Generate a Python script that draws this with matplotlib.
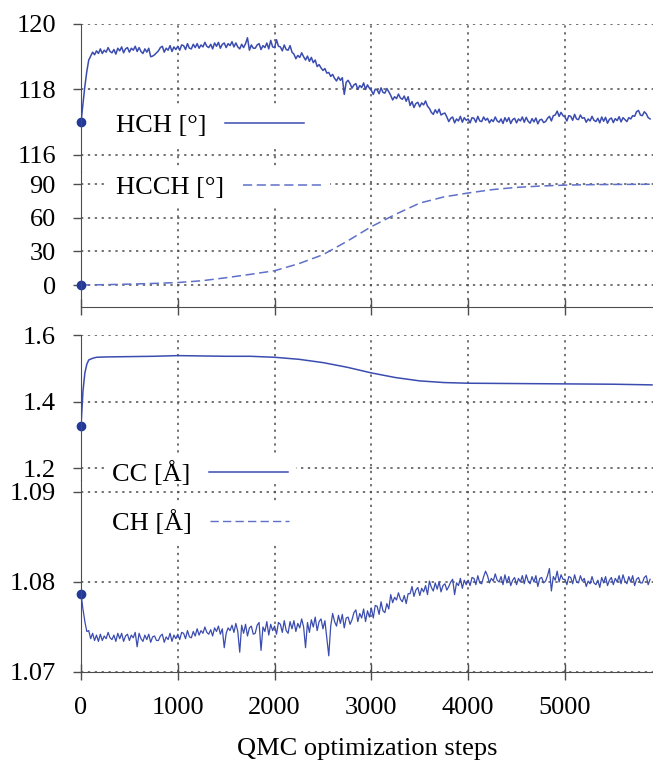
import matplotlib
matplotlib.use('Agg')
import matplotlib.pyplot as plt
import numpy as np

plt.rcParams['font.family'] = ['Liberation Serif', 'DejaVu Serif']
plt.rcParams['font.size'] = 19

# QMC steps, one value every 20 steps
steps = np.arange(0, 5900, 20)

# HCH angle [deg]
hch = [117.00, 117.55, 118.10, 118.55, 118.90, 119.02, 119.14, 119.06, 119.18, 119.10,
       119.24, 119.10, 119.20, 119.14, 119.28, 119.16, 119.12, 119.22, 119.08, 119.26,
       119.18, 119.30, 119.12, 119.24, 119.28, 119.14, 119.26, 119.20, 119.32, 119.16,
       119.28, 119.16, 119.10, 119.24, 119.14, 119.26, 119.00, 119.02, 119.06, 119.12,
       119.18, 119.28, 119.32, 119.14, 119.26, 119.20, 119.34, 119.16, 119.30, 119.22,
       119.32, 119.20, 119.36, 119.34, 119.22, 119.40, 119.26, 119.24, 119.38, 119.28,
       119.40, 119.26, 119.36, 119.30, 119.44, 119.32, 119.28, 119.38, 119.24, 119.42,
       119.32, 119.44, 119.26, 119.38, 119.42, 119.28, 119.40, 119.34, 119.46, 119.30,
       119.42, 119.30, 119.24, 119.38, 119.28, 119.40, 119.58, 119.20, 119.36, 119.26,
       119.26, 119.36, 119.40, 119.22, 119.34, 119.28, 119.42, 119.24, 119.50, 119.30,
       119.28, 119.52, 119.32, 119.30, 119.18, 119.36, 119.22, 119.20, 119.34, 119.14,
       119.08, 118.94, 119.04, 118.98, 119.12, 119.00, 118.90, 119.02, 118.86, 118.98,
       118.82, 118.90, 118.70, 118.76, 118.66, 118.58, 118.64, 118.50, 118.52, 118.40,
       118.46, 118.34, 118.26, 118.38, 118.28, 118.36, 117.85, 118.22, 118.28, 118.18,
       118.04, 118.14, 118.18, 118.00, 118.12, 118.06, 118.20, 118.00, 118.14, 118.04,
       117.97, 117.85, 118.01, 117.99, 117.87, 118.05, 117.91, 117.89, 118.03, 117.93,
       117.82, 117.68, 117.78, 117.72, 117.86, 117.74, 117.70, 117.80, 117.64, 117.78,
       117.51, 117.63, 117.45, 117.57, 117.61, 117.47, 117.59, 117.53, 117.65, 117.49,
       117.42, 117.30, 117.24, 117.38, 117.28, 117.40, 117.22, 117.26, 117.28, 117.16,
       117.02, 117.12, 117.16, 116.98, 117.10, 117.04, 117.18, 117.00, 117.14, 117.06,
       117.10, 116.98, 117.14, 117.12, 117.00, 117.18, 117.04, 117.02, 117.16, 117.06,
       117.12, 116.98, 117.08, 117.02, 117.16, 117.04, 117.00, 117.10, 116.96, 117.14,
       117.02, 117.14, 116.96, 117.08, 117.12, 116.98, 117.10, 117.04, 117.16, 117.00,
       117.15, 117.03, 116.97, 117.11, 117.01, 117.13, 116.95, 117.07, 117.09, 116.99,
       117.02, 117.12, 117.18, 117.04, 117.20, 117.22, 117.34, 117.18, 117.30, 117.20,
       117.16, 117.04, 117.20, 117.18, 117.06, 117.24, 117.10, 117.08, 117.22, 117.12,
       117.14, 117.00, 117.10, 117.04, 117.18, 117.06, 117.02, 117.12, 116.98, 117.16,
       117.03, 117.15, 116.97, 117.09, 117.13, 116.99, 117.11, 117.05, 117.17, 117.01,
       117.14, 117.08, 117.02, 117.14, 117.10, 117.20, 117.18, 117.32, 117.36, 117.22,
       117.20, 117.32, 117.26, 117.14, 117.10]

# CH bond [A]
ch = [1.0787, 1.0770, 1.0756, 1.0745, 1.0746, 1.0737, 1.0743, 1.0735, 1.0741, 1.0734,
      1.0742, 1.0735, 1.0740, 1.0737, 1.0744, 1.0738, 1.0736, 1.0741, 1.0734, 1.0743,
      1.0737, 1.0743, 1.0734, 1.0740, 1.0742, 1.0735, 1.0741, 1.0738, 1.0744, 1.0728,
      1.0743, 1.0737, 1.0734, 1.0741, 1.0736, 1.0742, 1.0733, 1.0739, 1.0740, 1.0735,
      1.0735, 1.0740, 1.0742, 1.0733, 1.0739, 1.0736, 1.0743, 1.0734, 1.0741, 1.0737,
      1.0742, 1.0736, 1.0744, 1.0743, 1.0737, 1.0746, 1.0739, 1.0738, 1.0745, 1.0740,
      1.0748, 1.0741, 1.0746, 1.0743, 1.0750, 1.0744, 1.0742, 1.0747, 1.0740, 1.0749,
      1.0745, 1.0751, 1.0742, 1.0748, 1.0727, 1.0743, 1.0749, 1.0746, 1.0752, 1.0744,
      1.0754, 1.0745, 1.0722, 1.0752, 1.0743, 1.0753, 1.0740, 1.0749, 1.0751, 1.0742,
      1.0743, 1.0752, 1.0755, 1.0724, 1.0750, 1.0745, 1.0756, 1.0741, 1.0753, 1.0746,
      1.0751, 1.0742, 1.0755, 1.0753, 1.0744, 1.0757, 1.0746, 1.0743, 1.0756, 1.0748,
      1.0757, 1.0745, 1.0754, 1.0749, 1.0759, 1.0750, 1.0727, 1.0755, 1.0744, 1.0758,
      1.0750, 1.0761, 1.0746, 1.0756, 1.0759, 1.0748, 1.0757, 1.0738, 1.0718, 1.0751,
      1.0765, 1.0756, 1.0751, 1.0763, 1.0754, 1.0764, 1.0749, 1.0760, 1.0761, 1.0753,
      1.0758, 1.0766, 1.0769, 1.0756, 1.0765, 1.0760, 1.0770, 1.0756, 1.0768, 1.0761,
      1.0771, 1.0760, 1.0774, 1.0773, 1.0764, 1.0778, 1.0768, 1.0766, 1.0776, 1.0770,
      1.0786, 1.0777, 1.0783, 1.0780, 1.0788, 1.0781, 1.0778, 1.0785, 1.0776, 1.0787,
      1.0787, 1.0795, 1.0784, 1.0791, 1.0794, 1.0785, 1.0793, 1.0789, 1.0796, 1.0786,
      1.0801, 1.0794, 1.0790, 1.0799, 1.0792, 1.0800, 1.0789, 1.0796, 1.0798, 1.0791,
      1.0795, 1.0800, 1.0803, 1.0786, 1.0799, 1.0796, 1.0804, 1.0793, 1.0802, 1.0797,
      1.0802, 1.0796, 1.0805, 1.0804, 1.0797, 1.0807, 1.0799, 1.0798, 1.0806, 1.0812,
      1.0807, 1.0799, 1.0804, 1.0801, 1.0809, 1.0802, 1.0800, 1.0806, 1.0797, 1.0808,
      1.0799, 1.0806, 1.0796, 1.0802, 1.0805, 1.0797, 1.0804, 1.0800, 1.0807, 1.0798,
      1.0808, 1.0801, 1.0798, 1.0806, 1.0800, 1.0807, 1.0795, 1.0804, 1.0805, 1.0799,
      1.0801, 1.0807, 1.0815, 1.0790, 1.0806, 1.0802, 1.0812, 1.0800, 1.0808, 1.0803,
      1.0803, 1.0797, 1.0806, 1.0805, 1.0798, 1.0808, 1.0800, 1.0799, 1.0807, 1.0801,
      1.0804, 1.0795, 1.0801, 1.0798, 1.0806, 1.0799, 1.0797, 1.0802, 1.0794, 1.0805,
      1.0799, 1.0806, 1.0796, 1.0802, 1.0805, 1.0797, 1.0804, 1.0800, 1.0807, 1.0798,
      1.0808, 1.0801, 1.0798, 1.0806, 1.0800, 1.0807, 1.0796, 1.0803, 1.0805, 1.0799,
      1.0799, 1.0805, 1.0807, 1.0797, 1.0803]

# HCCH dihedral [deg] (smooth)
hcch_steps = [0, 250, 500, 750, 1000, 1250, 1500, 1750, 2000, 2250, 2500, 2750, 3000,
              3250, 3500, 3750, 4000, 4250, 4500, 4750, 5000, 5250, 5500, 5750, 5900]
hcch = [0.0, 0.3, 0.8, 1.4, 2.2, 3.8, 6.5, 9.5, 12.7, 19.0, 27.0, 39.0, 52.0,
        63.0, 73.0, 78.5, 82.0, 85.0, 87.0, 88.2, 89.0, 89.4, 89.6, 89.7, 89.8]

# CC bond [A] (smooth)
cc_steps = [0, 20, 40, 60, 80, 120, 160, 250, 500, 750, 1000, 1250, 1500, 1750, 2000,
            2250, 2500, 2750, 3000, 3250, 3500, 3750, 4000, 4500, 5000, 5500, 5900]
cc = [1.327, 1.430, 1.486, 1.512, 1.525, 1.530, 1.533, 1.534, 1.535, 1.536, 1.538, 1.537,
      1.536, 1.536, 1.533, 1.527, 1.517, 1.503, 1.486, 1.472, 1.462, 1.457, 1.455, 1.454,
      1.453, 1.452, 1.450]

xticks = [0, 1000, 2000, 3000, 4000, 5000]

solid_c = '#3b4cb0'
dash_c = '#5f70c8'
dot_c = '#23399a'
axis_c = '#4d4d4d'

W, H = 653, 764
fig = plt.figure(figsize=(W / 100, H / 100), dpi=100)


def make_ax(top_px, bot_px):
    ax = fig.add_axes([81 / W, 1 - bot_px / H, 1 - 81 / W, (bot_px - top_px) / H])
    ax.patch.set_visible(False)
    for s in ['top', 'right', 'bottom']:
        ax.spines[s].set_visible(False)
    ax.spines['left'].set_color(axis_c)
    ax.spines['bottom'].set_color(axis_c)
    ax.set_xlim(0, 5910)
    ax.set_xticks(xticks)
    ax.grid(True, linestyle=(0, (1.5, 3)), color=axis_c, linewidth=1.1)
    ax.tick_params(axis='y', direction='out', length=6, width=1, color=axis_c, pad=12)
    ax.tick_params(axis='x', length=0, labelbottom=False)
    ax.set_axisbelow(True)
    return ax


def add_legend(ax, x_px, y_px):
    leg = ax.legend(loc='center left', bbox_to_anchor=(x_px / W, 1 - y_px / H),
                    bbox_transform=fig.transFigure, markerfirst=False, frameon=True,
                    handlelength=3.0, handletextpad=0.7, borderpad=0.3, borderaxespad=0)
    leg.get_frame().set_facecolor('white')
    leg.get_frame().set_edgecolor('none')
    leg.get_frame().set_alpha(1)


# HCH
ax1 = make_ax(24, 172)
ax1.plot(steps, hch, color=solid_c, linewidth=1.1, label='HCH [°]')
ax1.plot([steps[0]], [hch[0]], 'o', color=dot_c, markersize=6, clip_on=False)
ax1.set_ylim(115.48, 120)
ax1.set_yticks([116, 118, 120])
add_legend(ax1, 108, 125)

# HCCH
ax2 = make_ax(172, 307)
ax2.plot(hcch_steps, hcch, color=dash_c, linewidth=1.1, dashes=(6, 3), label='HCCH [°]')
ax2.plot([hcch_steps[0]], [hcch[0]], 'o', color=dot_c, markersize=6, clip_on=False)
ax2.set_ylim(-19.6, 100.7)
ax2.set_yticks([0, 30, 60, 90])
ax2.spines['bottom'].set_visible(True)
ax2.tick_params(axis='x', direction='inout', length=12, width=1, color=axis_c)
add_legend(ax2, 108, 187)

# CC
ax3 = make_ax(335, 480)
ax3.plot(cc_steps, cc, color=solid_c, linewidth=1.1, label='CC [Å]')
ax3.plot([cc_steps[0]], [cc[0]], 'o', color=dot_c, markersize=6, clip_on=False)
ax3.set_ylim(1.164, 1.6)
ax3.set_yticks([1.2, 1.4, 1.6])
ax3.set_yticklabels(['1.2', '1.4', '1.6'])
add_legend(ax3, 104, 474)

# CH
ax4 = make_ax(480, 672)
ax4.plot(steps, ch, color=solid_c, linewidth=0.9)
ax4.plot([steps[0]], [ch[0]], 'o', color=dot_c, markersize=6, clip_on=False)
ax4.set_ylim(1.07, 1.09133)
ax4.set_yticks([1.07, 1.08, 1.09])
ax4.set_yticklabels(['1.07', '1.08', '1.09'])
ax4.spines['bottom'].set_visible(True)
ax4.tick_params(axis='x', direction='inout', length=12, width=1, color=axis_c,
                labelbottom=True, pad=12)
ax4.set_xticklabels([str(t) for t in xticks])
ax4.set_xlabel('QMC optimization steps', labelpad=14)
# the CH key is drawn dashed, as in the reference
ax4.plot([], [], color=dash_c, linewidth=1.0, dashes=(6, 3), label='CH [Å]')
add_legend(ax4, 104, 523)

fig.savefig('out.png', dpi=100)
